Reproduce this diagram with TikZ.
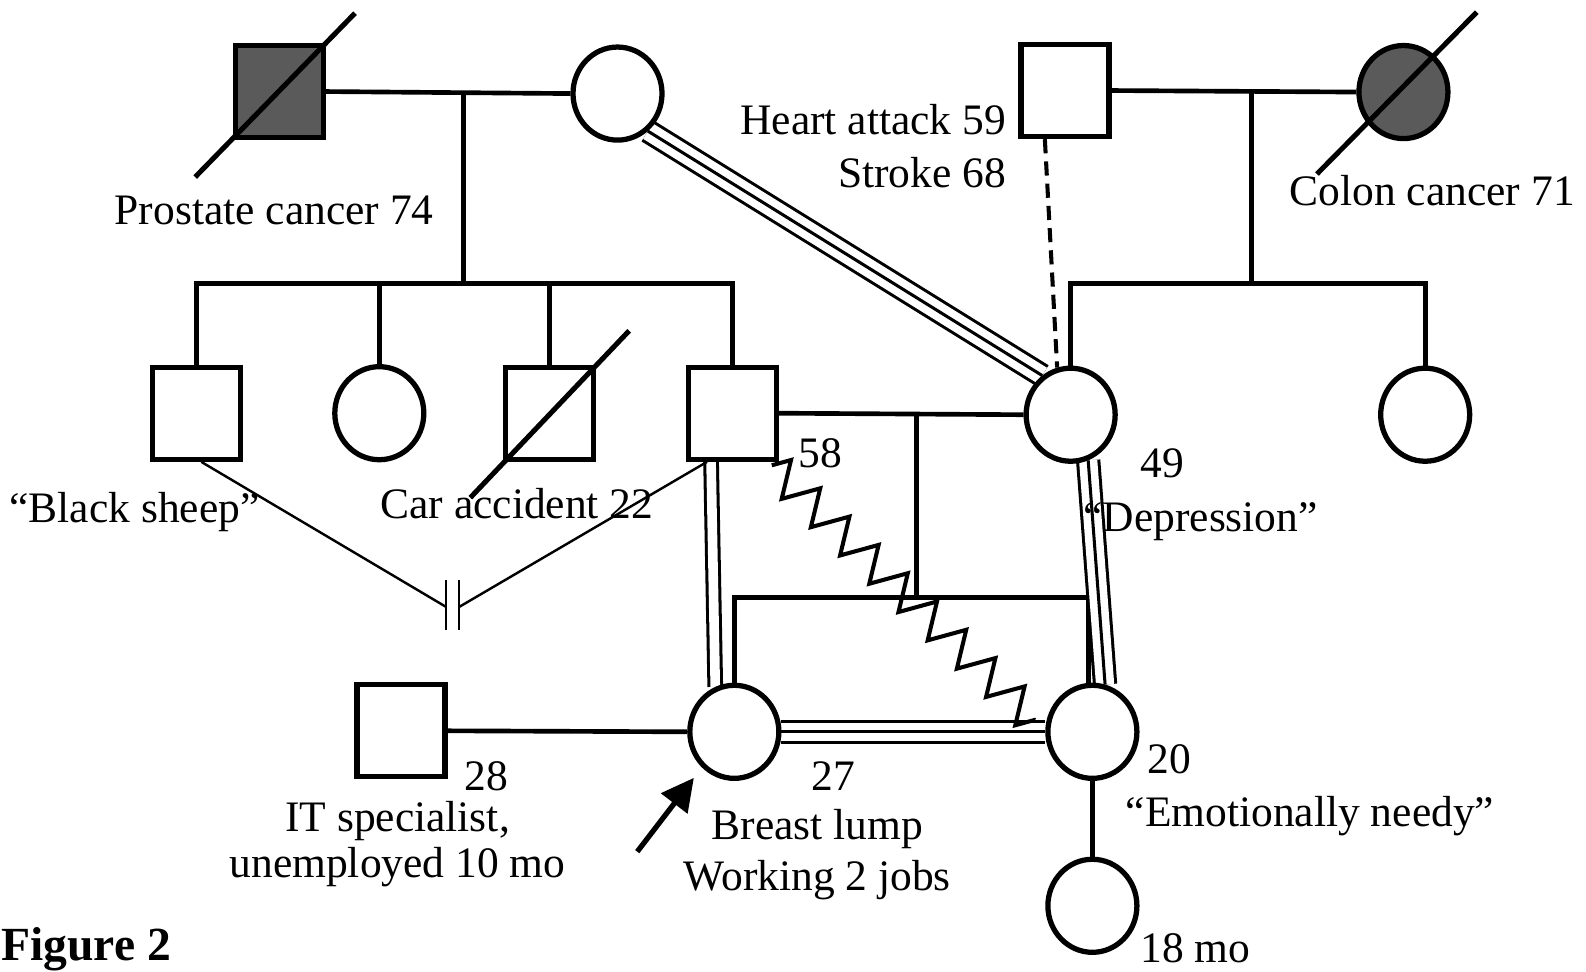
\documentclass[tikz,border=0pt]{standalone}
\usepackage{fontspec}
\setmainfont{Liberation Serif}
\usetikzlibrary{shapes.geometric,decorations.pathmorphing,arrows.meta,calc}
\pgfdeclarelayer{background}
\pgfsetlayers{background,main}
\definecolor{shadegray}{RGB}{90,90,90}
\begin{document}
\begin{tikzpicture}[x=0.5pt,y=-0.5pt,
  male/.style={draw,line width=2.6pt,fill=white,rectangle,minimum width=43.5pt,minimum height=45.5pt,inner sep=0pt},
  female/.style={draw,line width=2.6pt,fill=white,ellipse,minimum width=44pt,minimum height=46pt,inner sep=0pt},
  dead/.style={fill=shadegray},
  link/.style={line width=2.3pt},
  thinlink/.style={line width=1.2pt},
  deathline/.style={line width=2.5pt},
  triplel/.style={white,line width=9pt,preaction={draw,black,line width=12pt},postaction={draw,black,line width=1.5pt}},
  doublel/.style={white,line width=4.75pt,preaction={draw,black,line width=7.75pt}},
  lbl/.style={font=\fontsize{21.5pt}{25pt}\selectfont,inner sep=0pt,anchor=base},
]
\useasboundingbox (0,0) rectangle (1568,960);

% generation I
\node[male,dead] (gf) at (276,90.5) {};
\node[female] (gm) at (610.5,92.5) {};
\node[male] (ha) at (1053,89.5) {};
\node[female,dead] (cc) at (1387.5,91) {};

% generation II
\node[male] (c1) at (194,408.5) {};
\node[female] (c2) at (375,408.5) {};
\node[male] (c3) at (543,408.5) {};
\node[male] (fa) at (724,408.5) {};
\node[female] (mo) at (1058.5,410) {};
\node[female] (au) at (1409,410) {};

% generation III
\node[male] (it) at (396.5,722.5) {};
\node[female] (ix) at (726,723.5) {};
\node[female] (si) at (1080,723.5) {};
\node[female] (ch) at (1080,895.5) {};

% coordinates
\coordinate (lt) at (458,92);
\coordinate (lb) at (458,280);
\coordinate (rt) at (1237,90);
\coordinate (rb) at (1237,280);
\coordinate (mt) at (906,409);
\coordinate (mb) at (906,591);
\coordinate (sr) at (1076,591);
\coordinate (fad) at ($(fa.south)+(-21,0)$);
\coordinate (cutL) at (441,600);
\coordinate (cutR) at (454,600);
\coordinate (zs) at (763,460);
\coordinate (ze) at (1023,712);
\coordinate (das) at ($(ha.south)+(-20,0)$);
\coordinate (as) at (630,842);
\coordinate (ae) at (686,769);

\begin{pgfonlayer}{background}
  \draw[link] (gf.east) -- (gm.west);
  \draw[link] (lt) -- (lb);
  \draw[link] (c1.north) -- (c1.north |- lb) -- (fa.north |- lb) -- (fa.north);
  \draw[link] (c2.north) -- (c2.north |- lb);
  \draw[link] (c3.north) -- (c3.north |- lb);

  \draw[link] (ha.east) -- (cc.west);
  \draw[link] (rt) -- (rb);
  \draw[link] (mo.north) -- (mo.north |- rb) -- (au.north |- rb) -- (au.north);

  \draw[link] (fa.east) -- (mo.west);
  \draw[link] (mt) -- (mb);
  \draw[link] (ix.north) -- (ix.north |- mb) -- (sr) -- (sr |- si.north);

  \draw[link] (it.east) -- (ix.west);
  \draw[link] (si.south) -- (ch.north);

  \draw[triplel] (gm.-51) -- (mo.126);
  \draw[triplel] (mo.-69) -- (si.75);
  \draw[triplel] (ix.east) -- (si.west);
  \draw[doublel] (fad) -- (ix.113);

  \draw[line width=2pt,decorate,decoration={zigzag,segment length=20.1pt,amplitude=8.5pt}] (zs) -- (ze);
  \draw[line width=2pt,dash pattern=on 7pt off 4pt] (das) -- (mo.106);

  \draw[thinlink] ($(c1.south)+(5,0)$) -- (cutL);
  \draw[thinlink] (cutR) -- ($(fa.south)+(-25,0)$);
  \draw[thinlink] (441,573) -- (441,623);
  \draw[thinlink] (454,573) -- (454,623);
\end{pgfonlayer}

\draw[line width=2.6pt,-{Triangle[length=16pt,width=16pt]}] (as) -- (ae);

% death slashes
\draw[deathline] (193,175) -- (351,13);
\draw[deathline] (1302,172) -- (1460,12);
\draw[deathline] (465,492) -- (622,327);

% labels
\node[lbl] (lpc) at (271,222) {Prostate cancer 74};
\node[lbl,anchor=base east] (lha) at (995,133) {Heart attack 59};
\node[lbl,anchor=base east] (lst) at (995,185) {Stroke 68};
\node[lbl] (lcc) at (1416,203) {Colon cancer 71};
\node[lbl] (lbs) at (133,517) {“Black sheep”};
\node[lbl] (lca) at (511,513) {Car accident 22};
\node[lbl] (l58) at (811,462) {58};
\node[lbl] (l49) at (1149,472) {49};
\node[lbl] (ldep) at (1187,525) {“Depression”};
\node[lbl] (l28) at (481,782) {28};
\node[lbl] (lit1) at (393,822) {IT specialist,};
\node[lbl] (lit2) at (393,868) {unemployed 10 mo};
\node[lbl] (l27) at (824,782) {27};
\node[lbl] (lbr1) at (808,830) {Breast lump};
\node[lbl] (lbr2) at (808,880) {Working 2 jobs};
\node[lbl] (l20) at (1156,765) {20};
\node[lbl] (len) at (1295,817) {“Emotionally needy”};
\node[lbl] (l18) at (1182,952) {18 mo};
\node[lbl,anchor=base west,font=\fontsize{23.5pt}{27pt}\selectfont\bfseries] (fig) at (1,950) {Figure 2};
\end{tikzpicture}
\end{document}
